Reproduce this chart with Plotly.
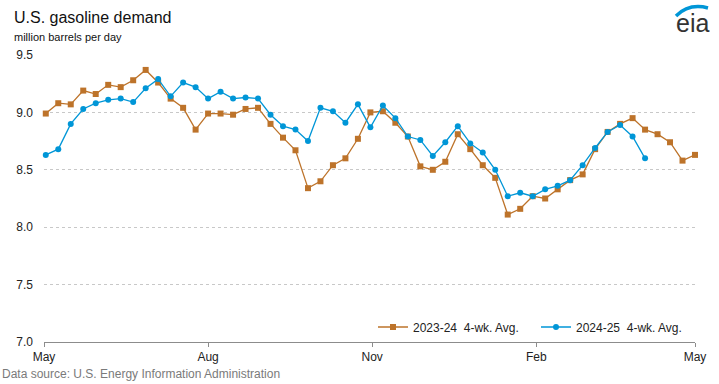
import pandas as pd
import plotly.graph_objects as go

# ---- data ----
series_2324_name = "2023-24  4-wk. Avg."
series_2425_name = "2024-25  4-wk. Avg."

demand_2023_24 = [8.99, 9.08, 9.07, 9.19, 9.16, 9.24, 9.22, 9.28, 9.37, 9.26,
                  9.12, 9.04, 8.85, 8.99, 8.99, 8.98, 9.03, 9.04, 8.90, 8.78,
                  8.67, 8.34, 8.40, 8.54, 8.60, 8.77, 9.00, 9.01, 8.91, 8.79,
                  8.53, 8.50, 8.57, 8.81, 8.68, 8.54, 8.43, 8.11, 8.16, 8.27,
                  8.25, 8.33, 8.41, 8.46, 8.68, 8.83, 8.90, 8.95, 8.85, 8.81,
                  8.74, 8.58, 8.63]
demand_2024_25 = [8.63, 8.68, 8.90, 9.03, 9.08, 9.11, 9.12, 9.09, 9.21, 9.29,
                  9.14, 9.26, 9.22, 9.12, 9.18, 9.12, 9.13, 9.12, 8.98, 8.88,
                  8.85, 8.75, 9.04, 9.01, 8.91, 9.07, 8.87, 9.06, 8.95, 8.79,
                  8.76, 8.62, 8.74, 8.88, 8.73, 8.65, 8.50, 8.27, 8.30, 8.27,
                  8.33, 8.36, 8.41, 8.54, 8.69, 8.83, 8.89, 8.79, 8.60]

week_dates = pd.date_range("2024-05-02", periods=len(demand_2023_24), freq="7D")
tick_dates = ["2024-05-01", "2024-08-01", "2024-11-01", "2025-02-01", "2025-05-01"]
tick_labels = ["May", "Aug", "Nov", "Feb", "May"]
y_ticks = [7.0, 7.5, 8.0, 8.5, 9.0, 9.5]
y_tick_labels = ["7.0", "7.5", "8.0", "8.5", "9.0", "9.5"]

# ---- layout constants (pixels) ----
W, H = 719, 384
L, R, T, B = 44, 24, 55, 42
PW, PH = W - L - R, H - T - B


def px(xp):
    return (xp - L) / PW


def py(yp):
    return (H - B - yp) / PH


BROWN = "#BD732A"
BLUE = "#0096D7"
FONT = "Liberation Sans, Arial, sans-serif"

fig = go.Figure()
fig.add_trace(go.Scatter(
    x=week_dates, y=demand_2023_24, name=series_2324_name,
    mode="lines+markers", cliponaxis=False,
    line=dict(color=BROWN, width=1.3),
    marker=dict(symbol="square", size=6, color=BROWN),
))
fig.add_trace(go.Scatter(
    x=week_dates[:len(demand_2024_25)], y=demand_2024_25, name=series_2425_name,
    mode="lines+markers", cliponaxis=False,
    line=dict(color=BLUE, width=1.3),
    marker=dict(symbol="circle", size=6, color=BLUE),
))

fig.update_layout(
    width=W, height=H,
    margin=dict(l=L, r=R, t=T, b=B, pad=0, autoexpand=False),
    paper_bgcolor="white", plot_bgcolor="white",
    font=dict(family=FONT, size=12, color="#222"),
    showlegend=True,
    legend=dict(orientation="h", x=px(373), y=py(327), xanchor="left", yanchor="middle",
                font=dict(size=12, color="#222"), bgcolor="rgba(0,0,0,0)",
                itemwidth=30, tracegroupgap=0,
                entrywidth=118, entrywidthmode="pixels"),
    xaxis=dict(
        type="date", range=["2024-05-01", "2025-05-01"],
        tickvals=tick_dates, ticktext=tick_labels,
        showgrid=False, showline=True, linecolor="#8c8c8c", linewidth=1,
        ticks="outside", ticklen=4, tickcolor="#8c8c8c",
        tickfont=dict(size=12, color="#222"), zeroline=False,
    ),
    yaxis=dict(
        range=[7.0, 9.5], tickvals=y_ticks, ticktext=y_tick_labels,
        showgrid=True, gridcolor="#c8c8c8", griddash="dot", gridwidth=1,
        showline=False, zeroline=False, ticks="",
        ticklabelstandoff=10,
        tickfont=dict(size=12, color="#222"),
    ),
    annotations=[
        dict(text="U.S. gasoline demand", xref="paper", yref="paper",
             x=px(12), y=py(18), xanchor="left", yanchor="middle", showarrow=False,
             font=dict(size=16, color="#111", family=FONT)),
        dict(text="million barrels per day", xref="paper", yref="paper",
             x=px(12), y=py(37), xanchor="left", yanchor="middle", showarrow=False,
             font=dict(size=11, color="#111", family=FONT)),
        dict(text="Data source: U.S. Energy Information Administration", xref="paper", yref="paper",
             x=px(0), y=py(374), xanchor="left", yanchor="middle", showarrow=False,
             font=dict(size=12, color="#7a7a7a", family=FONT)),
        dict(text="eia", xref="paper", yref="paper",
             x=px(692), y=py(23), xanchor="center", yanchor="middle", showarrow=False,
             font=dict(size=25, color="#333", family=FONT)),
    ],
    shapes=[
        dict(type="path", xref="paper", yref="paper",
             path=f"M {px(676)},{py(16)} Q {px(689)},{py(3)} {px(708)},{py(8)}",
             line=dict(color=BLUE, width=3.5)),
    ],
)

fig.write_html("out.html",
               config={"displayModeBar": False},
               post_script="document.body.style.margin='0';document.body.style.overflow='hidden';")
